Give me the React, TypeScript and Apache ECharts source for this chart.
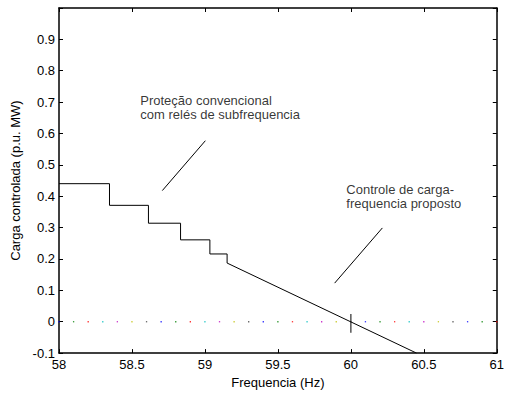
import React, { useEffect, useRef } from "react";
import * as echarts from "echarts";

// Relay steps (conventional protection): frequency where each step drops, and the load levels
const stepFreqs = [58.346, 58.613, 58.833, 59.034, 59.152];
const stepLoads = [0.44, 0.371, 0.314, 0.261, 0.216, 0.187];
// End of the proposed linear load-frequency control ramp
const rampEndFreq = 60.45;
const rampEndLoad = -0.1;

// Dotted zero reference line (frequencies of the dots)
const zeroDotFreqs = [
  58.0, 58.1, 58.2, 58.3, 58.4, 58.5, 58.6, 58.7, 58.8, 58.9,
  59.0, 59.1, 59.2, 59.3, 59.4, 59.5, 59.6, 59.7, 59.8, 59.9,
  60.0, 60.1, 60.2, 60.3, 60.4, 60.5, 60.6, 60.7, 60.8, 60.9, 61.0,
];
const dotColors = ["#0000ff", "#008000", "#ff0000", "#00bfbf", "#bf00bf", "#bfbf00", "#404040"];

// Nominal frequency marker
const markerFreq = 60;
const markerLoads = [-0.035, 0.025];

// Annotation pointer lines [freq, load]
const pointer1 = [[58.708, 0.418], [59.003, 0.577]];
const pointer2 = [[59.889, 0.123], [60.216, 0.299]];

// Annotation texts and anchors
const note1 = "Proteção convencional\ncom relés de subfrequencia";
const note1At = [58.557, 0.683];
const note2 = "Controle de carga-\nfrequencia proposto";
const note2At = [59.969, 0.398];

const xTicks = { min: 58, max: 61, interval: 0.5 };
const yTicks = { min: -0.1, max: 1.0, interval: 0.1 };

const FONT = "Liberation Sans, Arial, sans-serif";

export default function App() {
  const ref = useRef<HTMLDivElement>(null);
  useEffect(() => {
    if (!ref.current) return;
    const chart = echarts.init(ref.current, undefined, { renderer: "svg" });

    const stepData: number[][] = [[xTicks.min, stepLoads[0]]];
    stepFreqs.forEach((f, i) => {
      stepData.push([f, stepLoads[i]]);
      stepData.push([f, stepLoads[i + 1]]);
    });
    stepData.push([rampEndFreq, rampEndLoad]);

    const dotData = zeroDotFreqs.map((f, i) => ({
      value: [f, 0],
      itemStyle: { color: dotColors[i % dotColors.length] },
    }));

    const fmtY = (v: number) => (Math.abs(v - 1) < 1e-9 ? "" : String(+v.toFixed(1)));
    const fmtX = (v: number) => String(+v.toFixed(1));

    const axisLine = { show: true, onZero: false, lineStyle: { color: "#000", width: 1.5 } };
    const labelStyle = { color: "#000", fontSize: 13, fontFamily: FONT };
    const tick = { show: true, inside: true, length: 4, lineStyle: { color: "#000" } };

    chart.setOption({
      animation: false,
      backgroundColor: "#fff",
      grid: { left: 59, right: 6, top: 8, bottom: 38, containLabel: false },
      xAxis: [
        {
          type: "value",
          ...xTicks,
          position: "bottom",
          axisLine,
          axisTick: tick,
          axisLabel: { ...labelStyle, margin: 5, formatter: fmtX },
          splitLine: { show: false },
          name: "Frequencia (Hz)",
          nameLocation: "middle",
          nameGap: 20,
          nameTextStyle: labelStyle,
        },
        {
          type: "value",
          ...xTicks,
          position: "top",
          axisLine,
          axisTick: tick,
          axisLabel: { show: false },
          splitLine: { show: false },
        },
      ],
      yAxis: [
        {
          type: "value",
          ...yTicks,
          position: "left",
          axisLine,
          axisTick: tick,
          axisLabel: { ...labelStyle, margin: 4, formatter: fmtY },
          splitLine: { show: false },
          name: "Carga controlada (p.u. MW)",
          nameLocation: "middle",
          nameRotate: 90,
          nameGap: 35,
          nameTextStyle: labelStyle,
        },
        {
          type: "value",
          ...yTicks,
          position: "right",
          axisLine,
          axisTick: tick,
          axisLabel: { show: false },
          splitLine: { show: false },
        },
      ],
      series: [
        {
          type: "scatter",
          data: dotData,
          symbol: "rect",
          symbolSize: 1.3,
          z: 1,
        },
        {
          type: "line",
          data: stepData,
          showSymbol: false,
          lineStyle: { color: "#000", width: 1 },
          z: 3,
        },
        {
          type: "line",
          data: markerLoads.map((v) => [markerFreq, v]),
          showSymbol: false,
          lineStyle: { color: "#555", width: 1.5 },
          z: 2,
        },
        {
          type: "line",
          data: pointer1,
          showSymbol: false,
          lineStyle: { color: "#000", width: 1 },
        },
        {
          type: "line",
          data: pointer2,
          showSymbol: false,
          lineStyle: { color: "#000", width: 1 },
        },
        {
          type: "scatter",
          symbolSize: 0,
          data: [
            { value: note1At, label: { formatter: note1 } },
            { value: note2At, label: { formatter: note2 } },
          ],
          label: {
            show: true,
            position: [0, 0],
            align: "left",
            verticalAlign: "middle",
            color: "#000",
            fontSize: 13,
            lineHeight: 14,
            fontFamily: FONT,
          },
        },
      ],
    });
    return () => chart.dispose();
  }, []);

  return (
    <div
      ref={ref}
      style={{ position: "fixed", left: 0, top: 0, width: 507, height: 394, background: "#fff" }}
    />
  );
}
